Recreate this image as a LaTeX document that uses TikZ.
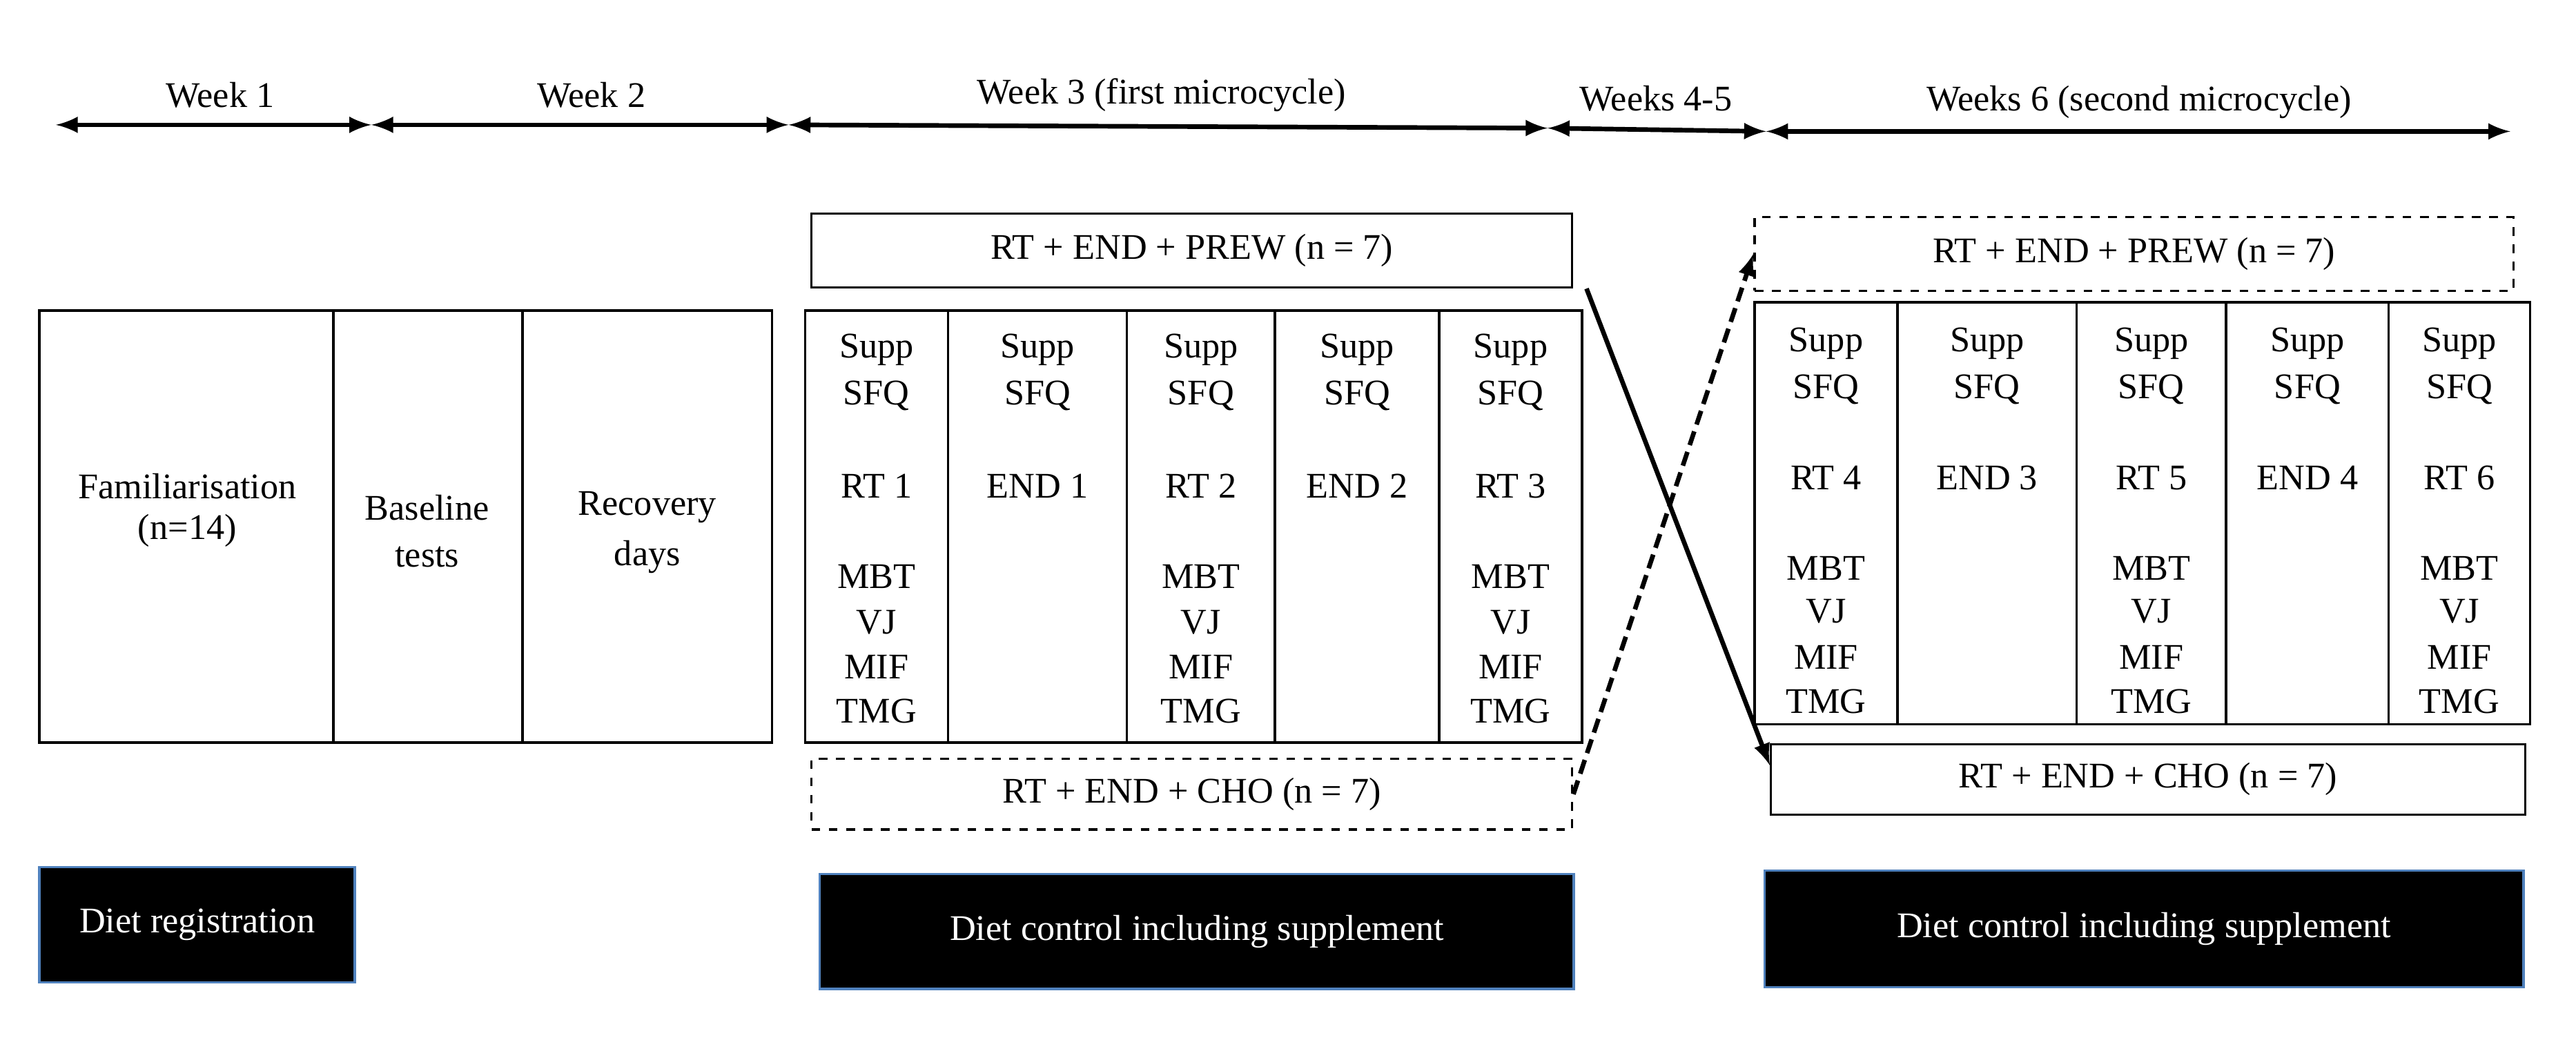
\documentclass[tikz,border=0pt]{standalone}
\usepackage{fontspec}
\setmainfont{Liberation Serif}
\usetikzlibrary{positioning}
\begin{document}
\begin{tikzpicture}[x=0.02cm,y=-0.02cm,font=\fontsize{12.5}{14}\selectfont,
    span/.style={<->,>=latex,line width=1.6pt},
    cell/.style={draw,thick,rectangle,inner sep=0pt},
    dashcell/.style={draw,thick,dashed,rectangle,inner sep=0pt},
    diet/.style={draw={rgb,255:red,79;green,129;blue,189},thick,fill=black,text=white,inner sep=0pt}]
    \useasboundingbox (0,0) rectangle (1568,633);

    % timeline
    \coordinate (t0) at (34,76);
    \coordinate (t1) at (226,76);
    \coordinate (t2) at (480,76);
    \coordinate (t3) at (942,78);
    \coordinate (t4) at (1075,80);
    \coordinate (t5) at (1528,80);
    \draw[span] (t0) -- (t1);
    \draw[span] (t1) -- (t2);
    \draw[span] (t2) -- (t3);
    \draw[span] (t3) -- (t4);
    \draw[span] (t4) -- (t5);
    \node (w1) at (134,58) {Week 1};
    \node (w2) at (360,58) {Week 2};
    \node (w3) at (707,58) {Week 3 (first microcycle)};
    \node (w45) at (1008,60) {Weeks 4-5};
    \node (w6) at (1302,62) {Weeks 6 (second microcycle)};

    % left blocks
    \node[cell,minimum width=179*0.02cm,minimum height=263*0.02cm] (fam) at (113.5,320.5) {};
    \node[cell,minimum width=115*0.02cm,minimum height=263*0.02cm] (base) at (260.5,320.5) {};
    \node[cell,minimum width=152*0.02cm,minimum height=263*0.02cm] (rec) at (394,320.5) {};
    \node at (114,296) {Familiarisation};
    \node at (114,323) {(n=14)};
    \node at (260,309) {Baseline};
    \node at (260,339) {tests};
    \node at (394,309) {Recovery};
    \node at (394,339) {days};

    % week 3 grid
    \foreach \xa/\xb/\lab/\full [count=\i] in {490/577/RT 1/1,577/686/END 1/0,686/776/RT 2/1,776/876/END 2/0,876/963/RT 3/1}{
      \node[cell,minimum width={(\xb-\xa)*0.02cm},minimum height=263*0.02cm] (a\i) at ({(\xa+\xb)/2},320.5) {};
      \node at ({(\xa+\xb)/2},213) {Supp};
      \node at ({(\xa+\xb)/2},241) {SFQ};
      \node at ({(\xa+\xb)/2},296) {\lab};
      \ifnum\full=1
        \node at ({(\xa+\xb)/2},351) {MBT};
        \node at ({(\xa+\xb)/2},379) {VJ};
        \node at ({(\xa+\xb)/2},406) {MIF};
        \node at ({(\xa+\xb)/2},433) {TMG};
      \fi
    }
    \node[cell,minimum width=463*0.02cm,minimum height=45*0.02cm] (prew1) at (725.5,152.5) {RT + END + PREW (n = 7)};
    \node[dashcell,minimum width=463*0.02cm,minimum height=43*0.02cm] (cho1) at (725.5,483.5) {RT + END + CHO (n = 7)};

    % week 6 grid
    \foreach \xa/\xb/\lab/\full [count=\i] in {1068/1155/RT 4/1,1155/1264/END 3/0,1264/1355/RT 5/1,1355/1454/END 4/0,1454/1540/RT 6/1}{
      \node[cell,minimum width={(\xb-\xa)*0.02cm},minimum height=257*0.02cm] (b\i) at ({(\xa+\xb)/2},312.5) {};
      \node at ({(\xa+\xb)/2},209) {Supp};
      \node at ({(\xa+\xb)/2},237) {SFQ};
      \node at ({(\xa+\xb)/2},291) {\lab};
      \ifnum\full=1
        \node at ({(\xa+\xb)/2},346) {MBT};
        \node at ({(\xa+\xb)/2},372) {VJ};
        \node at ({(\xa+\xb)/2},400) {MIF};
        \node at ({(\xa+\xb)/2},427) {TMG};
      \fi
    }
    \node[dashcell,minimum width=462*0.02cm,minimum height=45*0.02cm] (prew2) at (1299,154.5) {RT + END + PREW (n = 7)};
    \node[cell,minimum width=459*0.02cm,minimum height=43*0.02cm] (cho2) at (1307.5,474.5) {RT + END + CHO (n = 7)};

    % crossing arrows
    \draw[->,>=latex,line width=1.6pt] (prew1.south east) ++(8,0) coordinate (s1) -- (cho2.west |- 0,466) coordinate (e1);
    \draw[->,>=latex,line width=1.6pt,dash pattern=on 5pt off 2.5pt] (cho1.east) -- (prew2.west);

    % diet boxes
    \node[diet,minimum width=192*0.02cm,minimum height=70*0.02cm] (d1) at (120,563) {Diet registration};
    \node[diet,minimum width=459*0.02cm,minimum height=70*0.02cm] (d2) at (728.5,567) {Diet control including supplement};
    \node[diet,minimum width=462*0.02cm,minimum height=71*0.02cm] (d3) at (1305,565.5) {Diet control including supplement};
\end{tikzpicture}
\end{document}
